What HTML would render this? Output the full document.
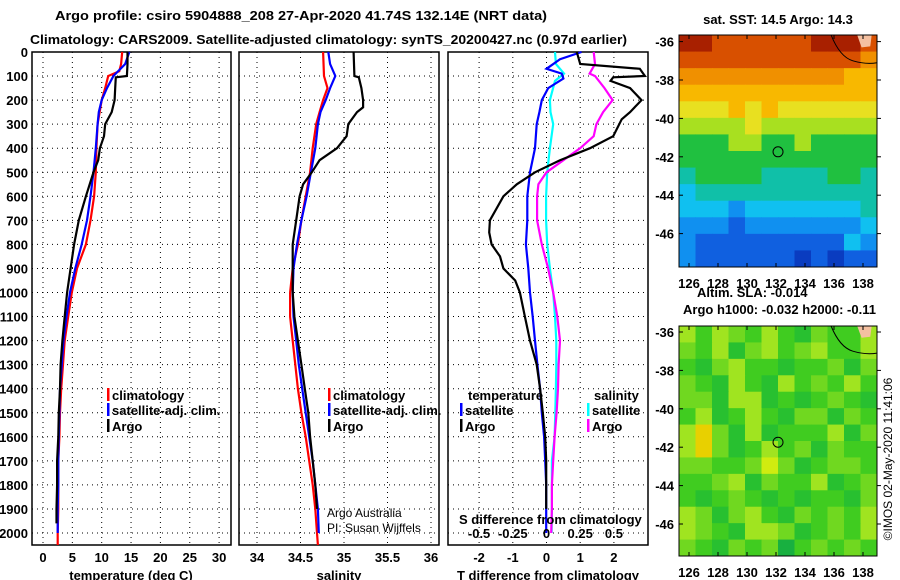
<!DOCTYPE html>
<html><head><meta charset="utf-8"><style>
html,body{margin:0;padding:0;background:#fff;}
svg{display:block;font-family:"Liberation Sans",sans-serif;}
.b{font-weight:bold;font-size:13px;}
.n{font-weight:normal;font-size:12px;}
</style></head><body>
<svg id="s" width="900" height="580" viewBox="0 0 900 580" xmlns="http://www.w3.org/2000/svg">
<text class="b" x="55" y="20" font-size="14" textLength="492" lengthAdjust="spacingAndGlyphs">Argo profile: csiro 5904888_208 27-Apr-2020 41.74S 132.14E (NRT data)</text>
<text class="b" x="30" y="44" font-size="14" textLength="597" lengthAdjust="spacingAndGlyphs">Climatology: CARS2009. Satellite-adjusted climatology: synTS_20200427.nc (0.97d earlier)</text>
<g id="g"></g>
</svg>
<script>
// ---- data ----
const depthTicks=[0,100,200,300,400,500,600,700,800,900,1000,1100,1200,1300,1400,1500,1600,1700,1800,1900,2000];
const tTicks=[0,5,10,15,20,25,30];
const sTicks=[34,34.5,35,35.5,36];
const dTicks=[-2,-1,0,1,2];
const sdTicks=[-0.5,-0.25,0,0.25,0.5];
const sdTickLabels=["-0.5","-0.25","0","0.25","0.5"];

const depA=[0,50,100,105,150,200,250,300,350,400,450,500,600,700,800,900,1000,1100,1200,1300,1400,1500,1600,1700,1800,1900,1960];
const tempArgo=[14.4,14.4,14.3,12.4,12.3,12.2,11.7,10.6,10.4,9.7,9.4,8.6,7.3,6.1,5.3,4.7,4.1,3.7,3.3,3.0,2.9,2.7,2.6,2.4,2.4,2.3,2.3];
const depC=[0,50,80,100,150,200,300,400,500,600,700,800,900,1000,1100,1200,1300,1400,1500,1600,1700,1800,1900,2000,2050];
const tempClim=[13.5,13.3,13.0,11.1,10.6,10.0,9.3,9.1,9.0,8.7,8.1,7.3,5.8,4.9,4.3,3.7,3.4,3.1,2.9,2.8,2.6,2.6,2.6,2.5,2.5];
const depS=[0,50,100,150,200,250,300,400,500,600,700,800,900,1000,1100,1200,1300,1400,1500,1600,1700,1800,1900,2000];
const tempSat=[14.7,14.0,12.0,10.9,10.0,9.5,9.3,9.0,8.6,8.1,7.5,6.6,5.5,4.6,4.0,3.5,3.2,2.9,2.8,2.7,2.6,2.6,2.5,2.5];

const depSA=[0,100,105,150,200,230,250,300,350,400,450,500,550,600,700,800,900,1000,1100,1200,1300,1400,1500,1600,1700,1800,1900];
const salArgo=[35.11,35.12,35.17,35.2,35.22,35.22,35.15,35.05,35.03,34.92,34.72,34.63,34.53,34.49,34.45,34.41,34.41,34.41,34.43,34.47,34.51,34.55,34.59,34.61,34.64,34.67,34.69];
const depSC=[0,100,150,200,250,300,400,500,600,700,800,900,1000,1100,1200,1300,1400,1500,1600,1700,1800,1900,2000,2050];
const salClim=[34.76,34.77,34.81,34.76,34.72,34.68,34.64,34.61,34.56,34.51,34.47,34.41,34.38,34.38,34.41,34.44,34.47,34.51,34.56,34.6,34.64,34.67,34.69,34.70];
const depSS=[0,50,100,150,200,250,300,400,500,600,700,800,900,1000,1100,1200,1300,1400,1500,1600,1700,1800,1900,2000];
const salSat=[34.82,34.84,34.9,34.84,34.79,34.73,34.7,34.67,34.62,34.57,34.51,34.46,34.42,34.41,34.42,34.45,34.48,34.52,34.56,34.6,34.64,34.67,34.7,34.71];

const depDT=[0,30,70,90,110,150,200,250,300,400,500,600,700,800,900,1000,1100,1200,1300,1400,1500,1600,1700,1800,1900,2000];
const dTsat=[1.04,0.4,0,0.45,0.5,0.05,-0.14,-0.21,-0.29,-0.34,-0.49,-0.57,-0.57,-0.61,-0.54,-0.49,-0.41,-0.34,-0.27,-0.19,-0.14,-0.07,-0.04,-0.01,-0.01,-0.01];
const depDA=[0,50,70,100,105,120,150,200,250,280,350,400,450,500,550,600,700,750,800,850,900,950,1000,1100,1200,1300,1400,1500,1600,1700,1800,1900];
const dTargo=[0.9,1.0,2.77,2.92,1.98,1.9,2.48,2.82,2.48,2.23,1.98,1.29,0.4,-0.34,-0.88,-1.28,-1.68,-1.7,-1.63,-1.38,-1.28,-0.93,-0.79,-0.64,-0.49,-0.29,-0.19,-0.11,-0.04,-0.01,-0.01,-0.01];
const depDS=[0,50,90,120,200,250,300,400,500,600,700,800,900,1000,1100,1200,1300,1400,1500,1600,1700,1800,1900,2000];
const dSsat=[0.063,0.07,0.13,0.063,0.025,0.03,0.05,0.025,0.005,-0.003,-0.003,0.005,0.025,0.05,0.063,0.073,0.073,0.07,0.065,0.06,0.04,0.04,0.04,0.038];
const depDM=[0,50,90,100,150,200,250,300,350,400,450,500,550,600,700,800,900,1000,1100,1200,1300,1400,1500,1600,1700,1800,1900,2000];
const dSargo=[0.35,0.36,0.32,0.36,0.43,0.49,0.42,0.37,0.35,0.25,0.125,0,-0.06,-0.07,-0.07,-0.035,0.012,0.05,0.08,0.1,0.09,0.085,0.075,0.06,0.05,0.04,0.04,0.035];

const lonTicks=[126,128,130,132,134,136,138];
const latTicks=[-36,-38,-40,-42,-44,-46];
const floatLon=[132.14];
const floatLat=[-41.74];
const sstGrid=[
[17.5,17.4,17.2,17.1,17.0,17.0,17.1,17.2,17.5,17.5,17.3,17.0],
[17.1,17.0,16.9,16.8,16.8,16.9,16.9,17.0,17.1,17.0,16.8,16.6],
[16.6,16.5,16.6,16.7,16.4,16.5,16.6,16.5,16.4,16.3,16.2,16.2],
[16.2,16.1,16.0,16.2,16.1,16.0,16.2,16.1,16.0,15.9,16.0,16.0],
[15.5,15.4,15.7,15.8,15.6,15.8,15.7,15.6,15.6,15.4,15.5,15.3],
[15.0,14.8,15.0,15.2,15.3,15.1,14.9,15.0,14.8,15.0,15.1,14.9],
[14.5,14.3,14.6,14.8,14.9,14.6,14.7,14.8,14.5,14.4,14.6,14.4],
[14.4,14.4,14.5,14.5,14.6,14.5,14.7,14.5,14.4,14.4,14.5,14.4],
[14.2,14.3,14.4,14.3,14.4,14.2,14.1,14.0,14.0,14.3,14.4,14.2],
[13.6,13.8,13.9,14.0,13.9,13.8,13.9,13.8,13.9,14.0,13.9,14.1],
[13.3,13.5,13.3,13.2,13.4,13.3,13.6,13.3,13.4,13.5,13.5,13.8],
[12.9,12.8,12.8,12.7,12.8,12.9,13.0,12.8,12.9,13.0,13.2,13.3],
[12.8,12.7,12.6,12.5,12.4,12.6,12.5,12.3,12.4,12.6,13.6,13.0],
[12.8,12.7,12.5,12.4,12.3,12.5,12.3,12.2,12.3,12.1,12.5,12.7]];
const slaGrid=[
[0.05,0.0,0.08,0.02,-0.02,0.06,0.0,-0.03,0.03,0.0,0.0,0.08],
[0.02,-0.02,0.06,-0.03,0.03,0.08,-0.02,0.02,0.05,-0.02,0.0,0.05],
[0.0,-0.03,0.04,0.07,-0.02,0.01,-0.05,0.0,-0.02,0.03,-0.04,0.02],
[0.04,-0.02,-0.04,0.08,0.0,-0.04,0.05,0.0,0.03,-0.02,0.05,0.0],
[0.03,0.02,-0.05,0.06,0.07,-0.03,0.0,-0.05,-0.02,0.02,0.0,-0.03],
[0.0,0.05,-0.03,0.0,0.08,-0.02,-0.04,0.02,0.04,-0.03,0.04,0.0],
[0.06,0.12,0.02,-0.03,0.05,-0.04,-0.02,0.0,0.0,0.05,-0.03,0.02],
[0.08,0.14,0.03,-0.04,0.0,0.06,-0.02,0.03,-0.03,0.04,0.0,-0.02],
[0.03,0.04,-0.02,0.0,0.02,0.1,0.04,-0.03,0.0,0.02,0.04,0.0],
[-0.02,0.0,0.04,0.06,-0.03,0.03,-0.02,0.0,0.05,-0.03,0.0,0.03],
[0.0,-0.04,0.0,0.02,-0.02,-0.04,0.0,-0.05,-0.02,0.0,-0.04,0.02],
[0.05,0.02,-0.03,0.04,0.06,0.0,-0.03,0.02,-0.02,0.04,0.0,0.08],
[0.08,0.04,0.0,-0.03,0.05,0.07,0.02,-0.03,0.0,0.03,-0.02,0.06],
[0.04,0.0,-0.04,0.02,0.0,0.03,-0.06,0.0,0.04,-0.02,0.03,0.0]];

// ---- helpers ----
const NS="http://www.w3.org/2000/svg";
const G=document.getElementById('g');
function mk(tag,attrs,parent){const e=document.createElementNS(NS,tag);for(const k in attrs)e.setAttribute(k,attrs[k]);(parent||G).appendChild(e);return e;}
function txt(x,y,s,anchor,cls,parent){const e=mk('text',{x:x,y:y,'text-anchor':anchor||'start','class':cls||'b'},parent);e.textContent=s;return e;}
const yD=d=>52+d*0.2405;
const xT=t=>43+t*5.87;
const xS=s=>257+(s-34)*87;
const xD=d=>546.5+d*33.7;
const xSD=s=>546.5+s*4*33.7;
const PT=52,PB=545;
const panels=[[32,231],[239,439],[448,648]];

panels.forEach((p,i)=>{
  const fr=mk('rect',{x:p[0],y:PT,width:p[1]-p[0],height:PB-PT,fill:'none',stroke:'#000','stroke-width':1.5});
  
  
  depthTicks.forEach(d=>{
    const l=mk('line',{x1:p[0],x2:p[1],y1:yD(d),y2:yD(d),stroke:'#000','stroke-width':1,'stroke-dasharray':'1,4'});
    
    
  });
});
function vgrid(ticks,fx,labels){
  ticks.forEach((t,i)=>{
    const x=fx(t);
    const l=mk('line',{x1:x,x2:x,y1:PT,y2:PB,stroke:'#000','stroke-width':1,'stroke-dasharray':'1,4'});
    
    
    const t2=txt(x,562,labels?labels[i]:String(t),'middle');
    
    
  });
}
vgrid(tTicks,xT);
vgrid(sTicks,xS);
vgrid(dTicks,xD);
depthTicks.forEach(d=>{
  const t=txt(28,yD(d)+5,String(d),'end');
  
  
});
[[131,'temperature (deg C)'],[339,'salinity'],[548,'T difference from climatology']].forEach(a=>{
  const t=txt(a[0],580,a[1],'middle');
  
  
});

function line(dep,vals,fx,color,name){
  const pts=dep.map((d,i)=>fx(vals[i]).toFixed(1)+','+yD(d).toFixed(1)).join(' ');
  const e=mk('polyline',{points:pts,fill:'none',stroke:color,'stroke-width':2.2,'stroke-linejoin':'miter'});
  
  
}
line(depC,tempClim,xT,'#ff0000','temp-climatology-line');
line(depS,tempSat,xT,'#0000ff','temp-satellite-line');
line(depA,tempArgo,xT,'#000','temp-argo-line');
line(depSC,salClim,xS,'#ff0000','sal-climatology-line');
line(depSS,salSat,xS,'#0000ff','sal-satellite-line');
line(depSA,salArgo,xS,'#000','sal-argo-line');
line(depDS,dSsat,xSD,'#00ffff','sdiff-satellite-line');
line(depDM,dSargo,xSD,'#ff00ff','sdiff-argo-line');
line(depDT,dTsat,xD,'#0000ff','tdiff-satellite-line');
line(depDA,dTargo,xD,'#000','tdiff-argo-line');

function leg(x,y,color,label,name){
  const m=mk('rect',{x:x,y:y-7,width:2.5,height:13,fill:color});
  
  
  const t=txt(x+5,y+5,label);
  
  
}
leg(107,395,'#ff0000','climatology','legend-climatology');
leg(107,410,'#0000ff','satellite-adj. clim.','legend-satellite');
leg(107,426,'#000','Argo','legend-argo');
leg(328,395,'#ff0000','climatology','legend-climatology-2');
leg(328,410,'#0000ff','satellite-adj. clim.','legend-satellite-2');
leg(328,426,'#000','Argo','legend-argo-2');
let t=txt(468,400,'temperature');
t=txt(594,400,'salinity');
leg(460,410,'#0000ff','satellite','legend-t-satellite');
leg(460,426,'#000','Argo','legend-t-argo');
leg(587,410,'#00ffff','satellite','legend-s-satellite');
leg(587,426,'#ff00ff','Argo','legend-s-argo');
t=txt(459,524,'S difference from climatology');
sdTicks.forEach((s,i)=>{const e=txt(xSD(s),538,sdTickLabels[i],'middle');});
t=txt(327,517,'Argo Australia','start','n');
t=txt(327,532,'PI: Susan Wijffels','start','n');

const lx=lon=>689+(lon-126)*14.5;
const MX0=679,MX1=877;
function sstColor(v){
  const c=['#0a3cc0','#1060e0','#1090f0','#10c0f0','#10c0a8','#20c040','#a8e020','#e8e020','#f8b800','#f09000','#d85000','#a82000'];
  let i=Math.round((v-12)/0.5);i=Math.max(0,Math.min(c.length-1,i));return c[i];
}
function slaColor(v){
  const c=['#18b040','#28c030','#40cc20','#70d820','#a0e420','#d0ec10','#e8d000'];
  let i=Math.round((v+0.075)/0.035);i=Math.max(0,Math.min(c.length-1,i));return c[i];
}
function map(grid,cfun,top,bot,y36,name,mname){
  const ly=lat=>y36+(-36-lat)*19.2;
  const g=mk('g',{});
  
  
  const rows=grid.length,cols=grid[0].length;
  const lonA=126+(MX0-689)/14.5, lonB=126+(MX1-689)/14.5;
  const latA=-36-(top-y36)/19.2, latB=-36-(bot-y36)/19.2;
  const dlon=(lonB-lonA)/cols, dlat=(latA-latB)/rows;
  grid.forEach((row,r)=>row.forEach((v,c)=>{
    const x0=lx(lonA+c*dlon), x1=lx(lonA+(c+1)*dlon);
    const y0=ly(latA-r*dlat), y1=ly(latA-(r+1)*dlat);
    const e=mk('rect',{x:x0,y:y0,width:x1-x0+0.5,height:y1-y0+0.5,fill:cfun(v)},g);
    
    
  }));
  const land=mk('path',{d:`M${lx(137.6)},${top} L${lx(137.9)},${ly(-36.3)} L${lx(138.5)},${ly(-36.25)} L${lx(138.6)},${top} Z`,fill:'#f4c0a0'},g);
  
  
  const coast=mk('path',{d:`M${lx(135.8)},${top} Q${lx(136.4)},${ly(-36.8)} ${lx(137.3)},${ly(-37.0)} T${MX1},${ly(-37.1)}`,fill:'none',stroke:'#000','stroke-width':1},g);
  
  
  const fr=mk('rect',{x:MX0,y:top,width:MX1-MX0,height:bot-top,fill:'none',stroke:'#000','stroke-width':1},g);
  
  
  latTicks.forEach(l=>{
    const y=ly(l);
    mk('line',{x1:MX0,x2:MX0+4,y1:y,y2:y,stroke:'#000'},g);
    mk('line',{x1:MX1,x2:MX1+4,y1:y,y2:y,stroke:'#000'},g);
    const e=txt(674,y+5,String(l),'end','b',g);
    
    
  });
  lonTicks.forEach(l=>{
    const x=lx(l);
    mk('line',{x1:x,x2:x,y1:bot,y2:bot-4,stroke:'#000'},g);
    mk('line',{x1:x,x2:x,y1:top,y2:top+4,stroke:'#000'},g);
    const e=txt(x,bot+21,String(l),'middle','b',g);
    
    
  });
  const c=mk('circle',{cx:lx(floatLon[0]),cy:ly(floatLat[0]),r:5,fill:'none',stroke:'#000','stroke-width':1},g);
  
  
}
map(sstGrid,sstColor,35,267,41.6,'sst-map','sst-map');
map(slaGrid,slaColor,326,556,332,'sla-map','sla-map');
t=txt(778,24,'sat. SST: 14.5 Argo: 14.3','middle');
t=txt(697,297,'Altim. SLA: -0.014');
t=txt(683,314,'Argo h1000: -0.032 h2000: -0.11');
t=txt(0,0,'©IMOS 02-May-2020 11:41:06','middle','n');
t.setAttribute('transform','translate(892,459) rotate(-90)');


</script>
</body></html>
